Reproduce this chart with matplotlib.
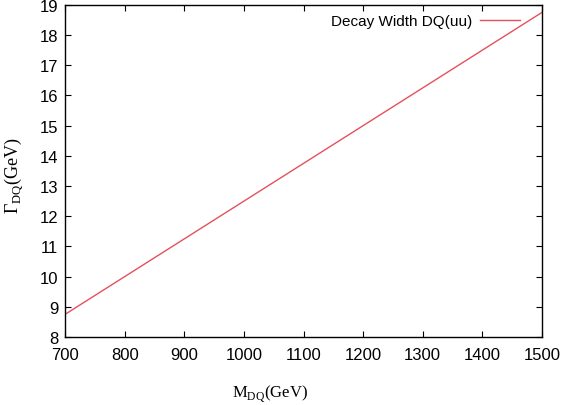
import matplotlib.pyplot as plt

mass = [700, 800, 900, 1000, 1100, 1200, 1300, 1400, 1500]
width = [8.75, 10.0, 11.25, 12.5, 13.75, 15.0, 16.25, 17.5, 18.75]
xticks = [700, 800, 900, 1000, 1100, 1200, 1300, 1400, 1500]
yticks = list(range(8, 20))

plt.rcParams['font.family'] = 'Liberation Sans'
plt.rcParams['mathtext.fontset'] = 'custom'
plt.rcParams['mathtext.rm'] = 'Liberation Serif'
fig = plt.figure(figsize=(5.61, 4.06), dpi=100)
ax = fig.add_axes([0.116, 0.1675, 0.85, 0.818])

ax.plot(mass, width, color='#e5505c', lw=1.0, label='Decay Width DQ(uu)')
ax.set_xlim(700, 1500)
ax.set_ylim(8, 19)
ax.set_xticks(xticks)
ax.set_yticks(yticks)
ax.tick_params(direction='in', top=True, right=True, length=4, labelsize=12)
ax.tick_params(axis='x', pad=7)
ax.tick_params(axis='y', pad=5)
for s in ax.spines.values():
    s.set_linewidth(1.0)

ax.set_xlabel(r'M$_{\mathrm{DQ}}$(GeV)', family='Liberation Serif', fontsize=12)
ax.set_ylabel(r'$\Gamma_{\mathrm{DQ}}$(GeV)', family='Liberation Serif', fontsize=13)
ax.xaxis.set_label_coords(0.43, -0.136)
ax.yaxis.set_label_coords(-0.084, 0.49)

leg = ax.legend(loc='upper right', frameon=False, markerfirst=False, fontsize=11,
                handlelength=2.6, borderaxespad=0.2, handletextpad=0.5,
                bbox_to_anchor=(0.973, 1.0))

fig.savefig('out.png', dpi=100)
